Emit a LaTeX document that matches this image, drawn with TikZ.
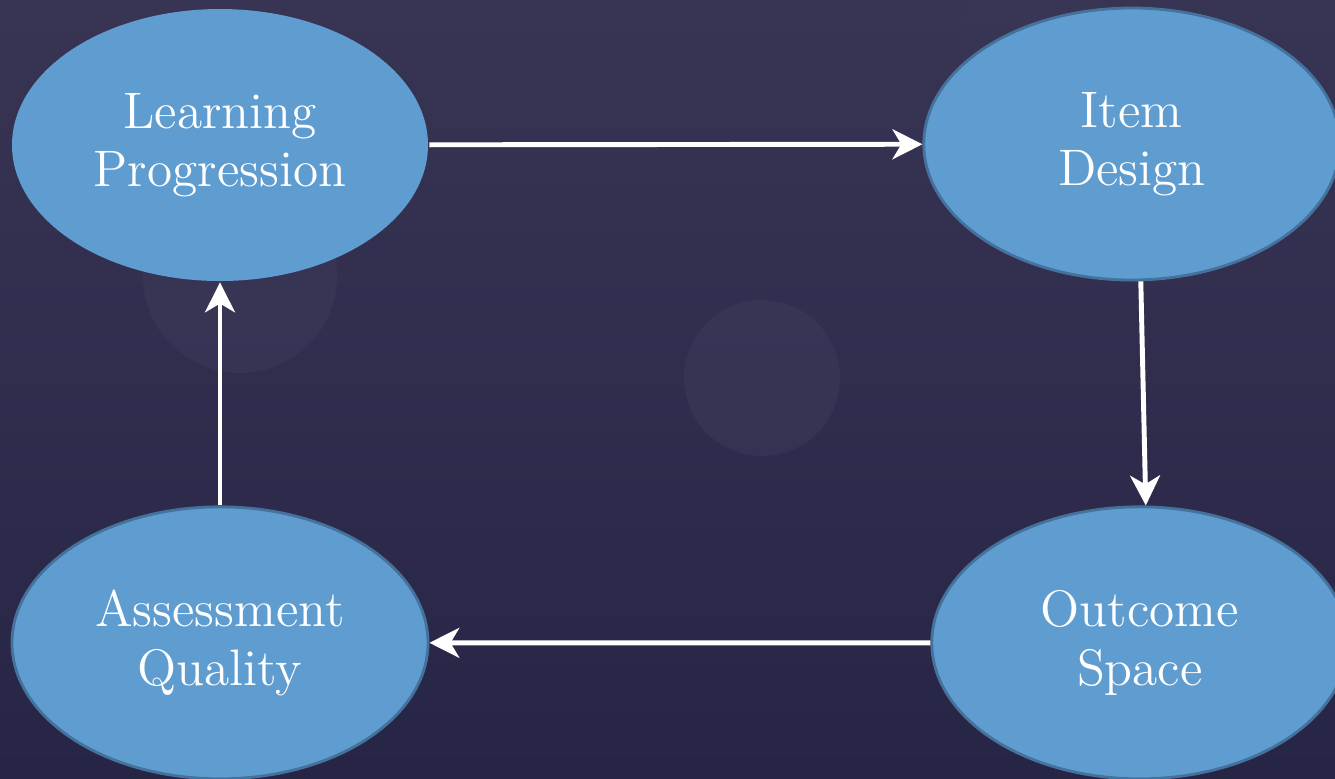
\documentclass[tikz,border=0pt]{standalone}
\usepackage{tikz}
\usetikzlibrary{positioning}
\usetikzlibrary{shapes.geometric}
\usetikzlibrary{arrows.meta}
\definecolor{bgtop}{HTML}{383454}
\definecolor{bgbot}{HTML}{272546}
\definecolor{spot}{HTML}{3C3858}
\definecolor{stagefill}{HTML}{5F9DD1}
\definecolor{stageline}{HTML}{44729C}
\tikzstyle{stage} = [ellipse, fill=stagefill, draw=stageline, line width=0.8pt, minimum width=4.16cm, minimum height=2.72cm, inner sep=0pt, text=white, align=center, execute at begin node={\rule{0pt}{0.95em}}, font=\fontsize{14.6}{16.6}\selectfont]
\tikzstyle{flow} = [draw=white, line width=1.4pt, -{Stealth[length=8.5pt, width=8.5pt, inset=2.5pt]}]

\begin{document}
\begin{tikzpicture}
  \useasboundingbox (0,0) rectangle (13.35,-7.78);
  \shade[top color=bgtop, bottom color=bgbot] (0,0) rectangle (13.35,-7.78);
  % faint spots in the backdrop
  \fill[spot, opacity=0.6] (7.62,-3.78) circle (0.78);
  \fill[spot, opacity=0.6] (2.40,-2.76) circle (0.97);
  \fill[spot, opacity=0.35] (10.35,-0.40) circle (0.75);

  \node[stage, draw=none] (lp) at (2.20,-1.45) {Learning\\Progression};
  \node[stage, right=4.93cm of lp, yshift=0.01cm] (id) {Item\\Design};
  \node[stage, below=2.24cm of id, xshift=0.08cm] (os) {Outcome\\Space};
  \node[stage, below=2.23cm of lp] (aq) {Assessment\\Quality};

  \draw[flow] (lp) -- (id);
  \draw[flow] ([xshift=0.09cm]id.south) -- ([xshift=0.06cm]os.north);
  \draw[flow] (os) -- (aq);
  \draw[flow] (aq) -- (lp);
\end{tikzpicture}
\end{document}
